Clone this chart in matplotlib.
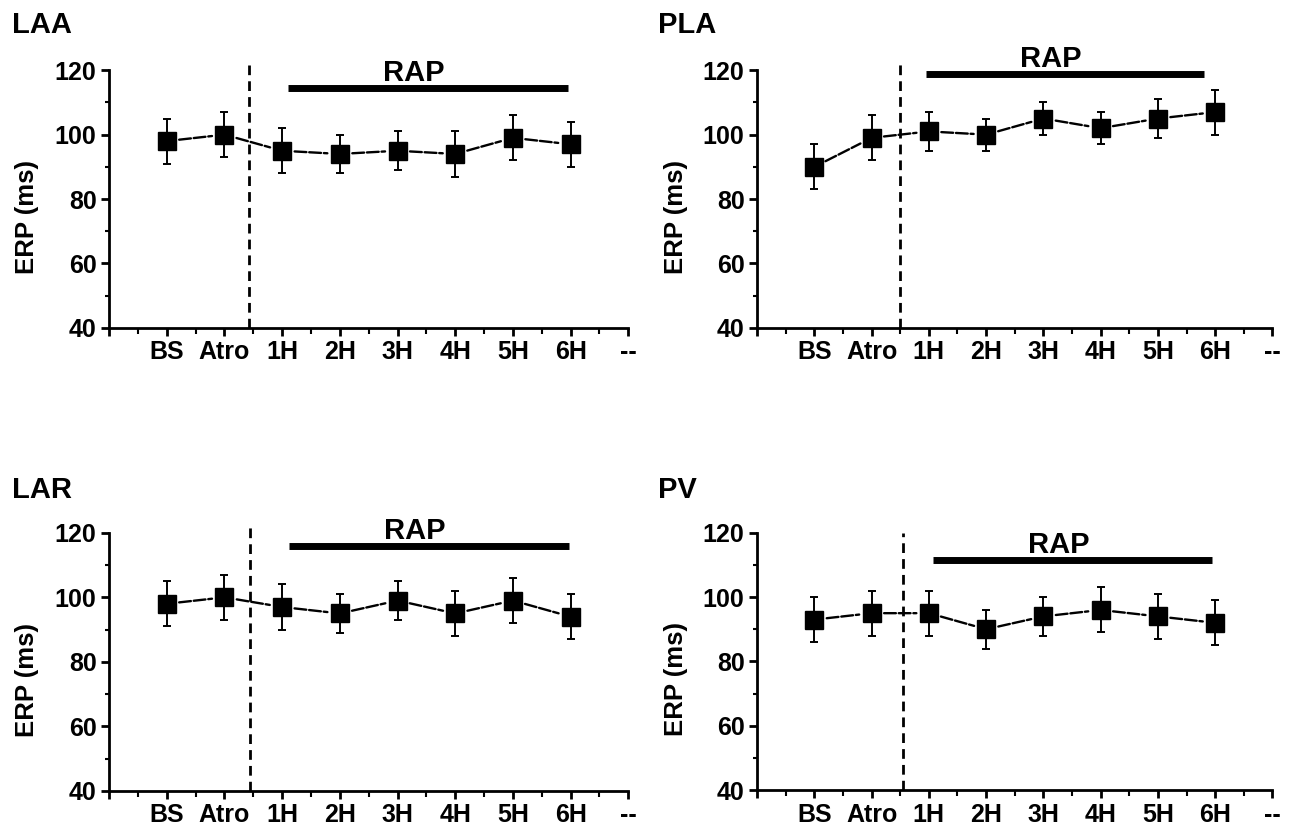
import matplotlib
matplotlib.use('Agg')
import matplotlib.pyplot as plt
from matplotlib.ticker import MultipleLocator, FixedLocator

plt.rcParams['font.family'] = ['Liberation Sans', 'DejaVu Sans']
plt.rcParams['font.weight'] = 'bold'

# Data
labels = ['BS', 'Atro', '1H', '2H', '3H', '4H', '5H', '6H']
laa_mean = [98, 100, 95, 94, 95, 94, 99, 97]
laa_err = [7, 7, 7, 6, 6, 7, 7, 7]
pla_mean = [90, 99, 101, 100, 105, 102, 105, 107]
pla_err = [7, 7, 6, 5, 5, 5, 6, 7]
lar_mean = [98, 100, 97, 95, 99, 95, 99, 94]
lar_err = [7, 7, 7, 6, 6, 7, 7, 7]
pv_mean = [93, 95, 95, 90, 94, 96, 94, 92]
pv_err = [7, 7, 7, 6, 6, 7, 7, 7]

titles = ['LAA', 'PLA', 'LAR', 'PV']
means = [laa_mean, pla_mean, lar_mean, pv_mean]
errs = [laa_err, pla_err, lar_err, pv_err]
# RAP bar: start, end, height; dashed divider x and top
rap_bar = [(3.1, 7.95, 114.4), (2.95, 7.8, 118.7), (3.12, 7.98, 115.9), (3.07, 7.95, 111.4)]
rap_text_x = [5.28, 5.13, 5.3, 5.27]
divider_x = [2.43, 2.5, 2.45, 2.55]
divider_top = [121.5, 122, 122.5, 120]

fig = plt.figure(figsize=(12.95, 8.26), dpi=100)
positions = [
    [0.0842, 0.603, 0.401, 0.312],
    [0.5846, 0.603, 0.398, 0.312],
    [0.0842, 0.0424, 0.401, 0.3126],
    [0.5846, 0.0435, 0.398, 0.3115],
]
title_pos = [(0.009, 0.97), (0.508, 0.97), (0.009, 0.407), (0.508, 0.407)]

x = list(range(1, len(labels) + 1))

for i in range(4):
    ax = fig.add_axes(positions[i])
    m, e = means[i], errs[i]

    # connecting lines with small gaps at the markers
    for j in range(len(x) - 1):
        ax.annotate('', xy=(x[j + 1], m[j + 1]), xytext=(x[j], m[j]),
                    arrowprops=dict(arrowstyle='-', shrinkA=9, shrinkB=9,
                                    lw=1.7, color='black', linestyle=(0, (5, 1.2))))
    ax.errorbar(x, m, yerr=e, fmt='none', ecolor='black', elinewidth=1.4,
                capsize=3, capthick=1.4, zorder=3)
    ax.plot(x, m, 's', color='black', markersize=12.5, zorder=4)

    # dashed divider between Atro and RAP
    ax.plot([divider_x[i], divider_x[i]], [40, divider_top[i]], color='black', lw=2,
            dashes=(3.5, 2.2), clip_on=False, zorder=2)

    # RAP bar and label
    x0, x1, yb = rap_bar[i]
    ax.plot([x0, x1], [yb, yb], color='black', lw=5, solid_capstyle='butt', clip_on=False)
    ax.text(rap_text_x[i], yb + 2.2, 'RAP', ha='center', va='baseline',
            fontsize=21, fontweight='bold')

    ax.set_xlim(0, 9)
    ax.set_ylim(40, 120)
    ax.xaxis.set_major_locator(FixedLocator(list(range(0, 10))))
    ax.set_xticklabels([''] + labels + ['--'])
    ax.xaxis.set_minor_locator(MultipleLocator(0.5))
    ax.yaxis.set_major_locator(MultipleLocator(20))
    ax.yaxis.set_minor_locator(MultipleLocator(10))

    for s in ['top', 'right']:
        ax.spines[s].set_visible(False)
    for s in ['left', 'bottom']:
        ax.spines[s].set_linewidth(2)
    ax.tick_params(which='major', direction='out', length=6, width=2, labelsize=18, pad=3)
    ax.tick_params(which='minor', direction='out', length=3, width=1.5)
    ax.tick_params(axis='x', which='minor', length=4)
    for lab in ax.get_xticklabels() + ax.get_yticklabels():
        lab.set_fontweight('bold')

    ax.set_ylabel('ERP (ms)', fontsize=18.5, fontweight='bold', va='center')
    ax.yaxis.set_label_coords(-0.158, 0.43)

    fig.text(title_pos[i][0], title_pos[i][1], titles[i], fontsize=21,
             fontweight='bold', va='center', ha='left')

fig.savefig('out.png', dpi=100)
